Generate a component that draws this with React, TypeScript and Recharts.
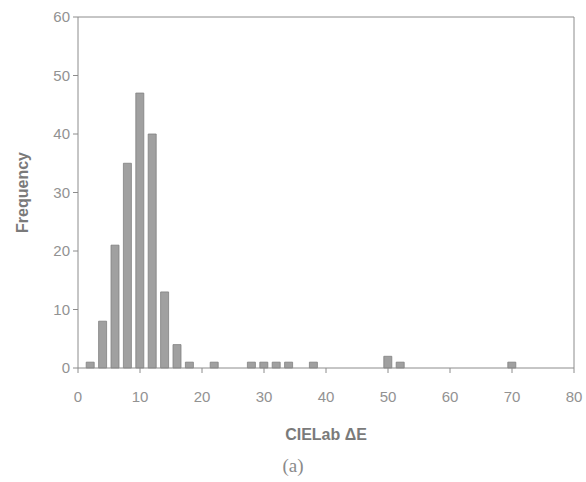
import {
  BarChart,
  Bar,
  XAxis,
  YAxis,
  ReferenceLine,
  Label,
} from "recharts";

// histogram bins (bin centre) and counts
const deltaE = [2, 4, 6, 8, 10, 12, 14, 16, 18, 22, 28, 30, 32, 34, 38, 50, 52, 70];
const frequency = [1, 8, 21, 35, 47, 40, 13, 4, 1, 1, 1, 1, 1, 1, 1, 2, 1, 1];
const xTicks = [0, 10, 20, 30, 40, 50, 60, 70, 80];
const yTicks = [0, 10, 20, 30, 40, 50, 60];

const data = deltaE.map((x, i) => ({ x, n: frequency[i] }));

const grey = "#8c8c8c";
const sans = "Liberation Sans, Arial, sans-serif";
const tickStyle = { fill: "#929292", fontSize: 15, fontFamily: sans };

export default function App() {
  return (
    <div style={{ position: "absolute", left: 0, top: 0, width: 586, height: 482, background: "#fff" }}>
      <BarChart
        width={586}
        height={482}
        data={data}
        margin={{ top: 17, right: 12, bottom: 84, left: 0 }}
        barSize={8}
      >
        <XAxis
          type="number"
          dataKey="x"
          domain={[0, 80]}
          ticks={xTicks}
          interval={0}
          height={30}
          stroke={grey}
          tick={tickStyle}
          tickSize={5}
          tickMargin={18}
        >
          <Label
            value="CIELab ΔE"
            position="bottom"
            offset={31}
            style={{ fill: "#7a7a7a", fontSize: 16, fontWeight: "bold", fontFamily: sans }}
          />
        </XAxis>
        <YAxis
          type="number"
          domain={[0, 60]}
          ticks={yTicks}
          interval={0}
          width={78}
          stroke={grey}
          tick={tickStyle}
          tickSize={5}
          tickMargin={3}
        >
          <Label
            value="Frequency"
            angle={-90}
            position="insideLeft"
            offset={22}
            style={{ textAnchor: "middle", fill: "#7a7a7a", fontSize: 16, fontWeight: "bold", fontFamily: sans }}
          />
        </YAxis>
        <ReferenceLine y={60} stroke={grey} />
        <ReferenceLine x={80} stroke={grey} />
        <Bar dataKey="n" fill="#a0a0a0" stroke="#808080" strokeWidth={0.8} isAnimationActive={false} />
      </BarChart>
      <div
        style={{
          position: "absolute",
          left: 0,
          width: 586,
          top: 455,
          textAlign: "center",
          fontFamily: "'Liberation Serif', 'Times New Roman', serif",
          fontSize: 19,
          color: "#8a8a8a",
        }}
      >
        (a)
      </div>
    </div>
  );
}
